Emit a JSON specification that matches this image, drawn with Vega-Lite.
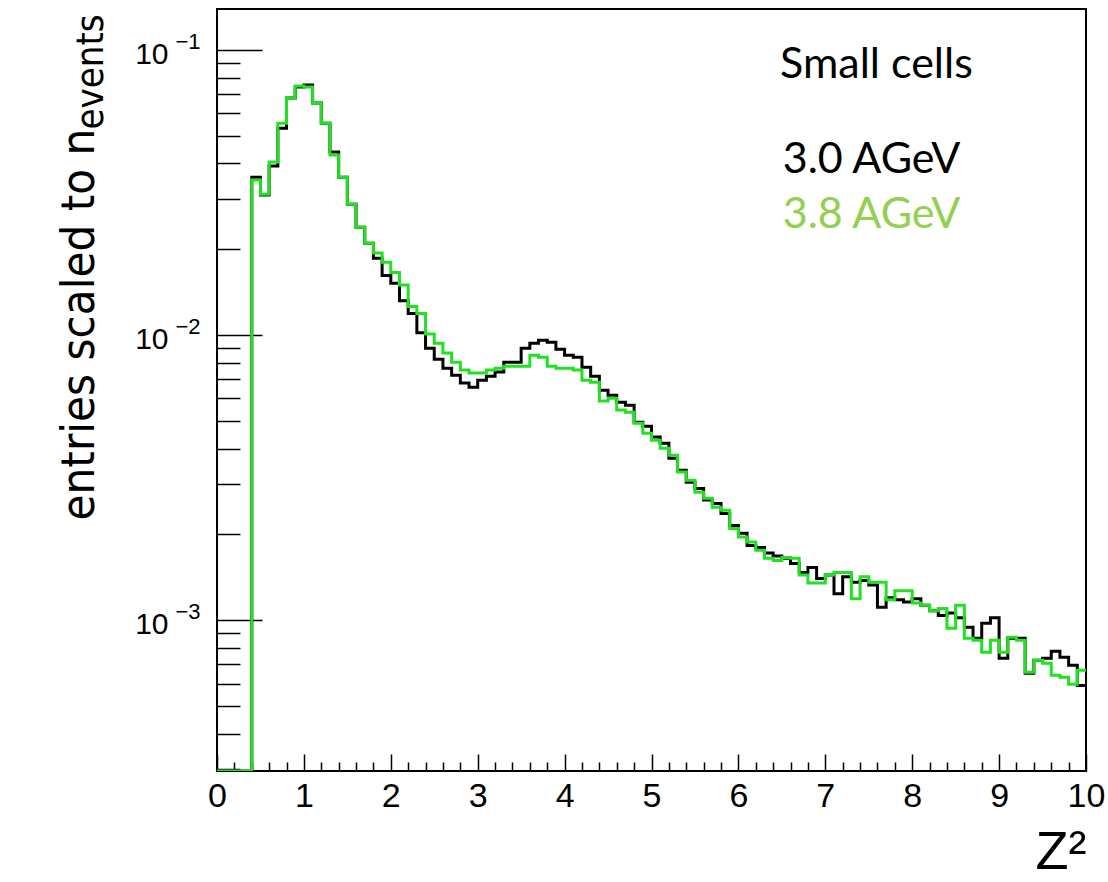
{
  "$schema": "https://vega.github.io/schema/vega-lite/v6.json",
  "width": 869,
  "height": 762,
  "autosize": {"type": "none"},
  "padding": {"left": 217, "top": 9, "right": 22, "bottom": 111},
  "background": "white",
  "config": {
    "view": {"stroke": "black", "strokeWidth": 2},
    "axis": {"grid": false, "domain": false, "tickColor": "black", "tickWidth": 1.5, "labelColor": "black", "titleColor": "black", "labelFont": "'Liberation Sans', Arial, sans-serif", "titleFont": "'Liberation Sans', Arial, sans-serif", "titleFontWeight": "normal"}
  },
  "datasets": {
    "e30": [
      {"x": 0, "v": 0.000296},
      {"x": 0.4, "v": 0.0358}, {"x": 0.5, "v": 0.0310}, {"x": 0.6, "v": 0.0392}, {"x": 0.7, "v": 0.0532}, {"x": 0.8, "v": 0.0679}, {"x": 0.9, "v": 0.0742},
      {"x": 1.0, "v": 0.0754}, {"x": 1.1, "v": 0.0652}, {"x": 1.2, "v": 0.0554}, {"x": 1.3, "v": 0.0439}, {"x": 1.4, "v": 0.0358}, {"x": 1.5, "v": 0.0288}, {"x": 1.6, "v": 0.0239}, {"x": 1.7, "v": 0.0210}, {"x": 1.8, "v": 0.0186}, {"x": 1.9, "v": 0.0162},
      {"x": 2.0, "v": 0.0152}, {"x": 2.1, "v": 0.0132}, {"x": 2.2, "v": 0.0119}, {"x": 2.3, "v": 0.0102}, {"x": 2.4, "v": 0.00900}, {"x": 2.5, "v": 0.00823}, {"x": 2.6, "v": 0.00766}, {"x": 2.7, "v": 0.00724}, {"x": 2.8, "v": 0.00679}, {"x": 2.9, "v": 0.00657},
      {"x": 3.0, "v": 0.00695}, {"x": 3.1, "v": 0.00718}, {"x": 3.2, "v": 0.00742}, {"x": 3.3, "v": 0.00804}, {"x": 3.4, "v": 0.00804}, {"x": 3.5, "v": 0.00900}, {"x": 3.6, "v": 0.00937}, {"x": 3.7, "v": 0.00960}, {"x": 3.8, "v": 0.00945}, {"x": 3.9, "v": 0.00893},
      {"x": 4.0, "v": 0.00851}, {"x": 4.1, "v": 0.00837}, {"x": 4.2, "v": 0.00772}, {"x": 4.3, "v": 0.00718}, {"x": 4.4, "v": 0.00641}, {"x": 4.5, "v": 0.00616}, {"x": 4.6, "v": 0.00582}, {"x": 4.7, "v": 0.00568}, {"x": 4.8, "v": 0.00495}, {"x": 4.9, "v": 0.00479},
      {"x": 5.0, "v": 0.00439}, {"x": 5.1, "v": 0.00418}, {"x": 5.2, "v": 0.00370}, {"x": 5.3, "v": 0.00336}, {"x": 5.4, "v": 0.00305}, {"x": 5.5, "v": 0.00290}, {"x": 5.6, "v": 0.00264}, {"x": 5.7, "v": 0.00257}, {"x": 5.8, "v": 0.00237}, {"x": 5.9, "v": 0.00215},
      {"x": 6.0, "v": 0.00202}, {"x": 6.1, "v": 0.00183}, {"x": 6.2, "v": 0.00180}, {"x": 6.3, "v": 0.00172}, {"x": 6.4, "v": 0.00168}, {"x": 6.5, "v": 0.00165}, {"x": 6.6, "v": 0.00158}, {"x": 6.7, "v": 0.00147}, {"x": 6.8, "v": 0.00153}, {"x": 6.9, "v": 0.00140},
      {"x": 7.0, "v": 0.00144}, {"x": 7.1, "v": 0.00124}, {"x": 7.2, "v": 0.00142}, {"x": 7.3, "v": 0.00136}, {"x": 7.4, "v": 0.00138}, {"x": 7.5, "v": 0.00133}, {"x": 7.6, "v": 0.00111}, {"x": 7.7, "v": 0.00120}, {"x": 7.8, "v": 0.00118}, {"x": 7.9, "v": 0.00116},
      {"x": 8.0, "v": 0.00119}, {"x": 8.1, "v": 0.00113}, {"x": 8.2, "v": 0.00108}, {"x": 8.3, "v": 0.00104}, {"x": 8.4, "v": 0.00106}, {"x": 8.5, "v": 0.00102}, {"x": 8.6, "v": 0.000945}, {"x": 8.7, "v": 0.000865}, {"x": 8.8, "v": 0.000976}, {"x": 8.9, "v": 0.00102},
      {"x": 9.0, "v": 0.000736}, {"x": 9.1, "v": 0.000865}, {"x": 9.2, "v": 0.000865}, {"x": 9.3, "v": 0.000652}, {"x": 9.4, "v": 0.000724}, {"x": 9.5, "v": 0.000736}, {"x": 9.6, "v": 0.000778}, {"x": 9.7, "v": 0.000742}, {"x": 9.8, "v": 0.000695}, {"x": 9.9, "v": 0.000591},
      {"x": 10.0, "v": 0.000591}
    ],
    "e38": [
      {"x": 0, "v": 0.000296},
      {"x": 0.4, "v": 0.0350}, {"x": 0.5, "v": 0.0312}, {"x": 0.6, "v": 0.0405}, {"x": 0.7, "v": 0.0554}, {"x": 0.8, "v": 0.0679}, {"x": 0.9, "v": 0.0748},
      {"x": 1.0, "v": 0.0742}, {"x": 1.1, "v": 0.0652}, {"x": 1.2, "v": 0.0554}, {"x": 1.3, "v": 0.0428}, {"x": 1.4, "v": 0.0358}, {"x": 1.5, "v": 0.0288}, {"x": 1.6, "v": 0.0239}, {"x": 1.7, "v": 0.0210}, {"x": 1.8, "v": 0.0194}, {"x": 1.9, "v": 0.0180},
      {"x": 2.0, "v": 0.0166}, {"x": 2.1, "v": 0.0150}, {"x": 2.2, "v": 0.0126}, {"x": 2.3, "v": 0.0119}, {"x": 2.4, "v": 0.0101}, {"x": 2.5, "v": 0.00937}, {"x": 2.6, "v": 0.00865}, {"x": 2.7, "v": 0.00804}, {"x": 2.8, "v": 0.00754}, {"x": 2.9, "v": 0.00736},
      {"x": 3.0, "v": 0.00736}, {"x": 3.1, "v": 0.00754}, {"x": 3.2, "v": 0.00766}, {"x": 3.3, "v": 0.00778}, {"x": 3.4, "v": 0.00778}, {"x": 3.5, "v": 0.00778}, {"x": 3.6, "v": 0.00851}, {"x": 3.7, "v": 0.00837}, {"x": 3.8, "v": 0.00778}, {"x": 3.9, "v": 0.00766},
      {"x": 4.0, "v": 0.00766}, {"x": 4.1, "v": 0.00754}, {"x": 4.2, "v": 0.00695}, {"x": 4.3, "v": 0.00684}, {"x": 4.4, "v": 0.00587}, {"x": 4.5, "v": 0.00601}, {"x": 4.6, "v": 0.00546}, {"x": 4.7, "v": 0.00537}, {"x": 4.8, "v": 0.00491}, {"x": 4.9, "v": 0.00453},
      {"x": 5.0, "v": 0.00428}, {"x": 5.1, "v": 0.00401}, {"x": 5.2, "v": 0.00379}, {"x": 5.3, "v": 0.00331}, {"x": 5.4, "v": 0.00310}, {"x": 5.5, "v": 0.00281}, {"x": 5.6, "v": 0.00268}, {"x": 5.7, "v": 0.00249}, {"x": 5.8, "v": 0.00243}, {"x": 5.9, "v": 0.00210},
      {"x": 6.0, "v": 0.00196}, {"x": 6.1, "v": 0.00188}, {"x": 6.2, "v": 0.00176}, {"x": 6.3, "v": 0.00165}, {"x": 6.4, "v": 0.00162}, {"x": 6.5, "v": 0.00166}, {"x": 6.6, "v": 0.00165}, {"x": 6.7, "v": 0.00144}, {"x": 6.8, "v": 0.00135}, {"x": 6.9, "v": 0.00135},
      {"x": 7.0, "v": 0.00144}, {"x": 7.1, "v": 0.00147}, {"x": 7.2, "v": 0.00147}, {"x": 7.3, "v": 0.00119}, {"x": 7.4, "v": 0.00142}, {"x": 7.5, "v": 0.00136}, {"x": 7.6, "v": 0.00136}, {"x": 7.7, "v": 0.00118}, {"x": 7.8, "v": 0.00127}, {"x": 7.9, "v": 0.00127},
      {"x": 8.0, "v": 0.00115}, {"x": 8.1, "v": 0.00113}, {"x": 8.2, "v": 0.00108}, {"x": 8.3, "v": 0.00110}, {"x": 8.4, "v": 0.000937}, {"x": 8.5, "v": 0.00113}, {"x": 8.6, "v": 0.000865}, {"x": 8.7, "v": 0.000851}, {"x": 8.8, "v": 0.000772}, {"x": 8.9, "v": 0.000851},
      {"x": 9.0, "v": 0.000772}, {"x": 9.1, "v": 0.000872}, {"x": 9.2, "v": 0.000851}, {"x": 9.3, "v": 0.000657}, {"x": 9.4, "v": 0.000724}, {"x": 9.5, "v": 0.000706}, {"x": 9.6, "v": 0.000641}, {"x": 9.7, "v": 0.000631}, {"x": 9.8, "v": 0.000596}, {"x": 9.9, "v": 0.000668},
      {"x": 10.0, "v": 0.000668}
    ],
    "labels": [
      {"t": "Small cells", "x": 6.48, "v": 0.0886, "c": "#000000"},
      {"t": "3.0 AGeV", "x": 6.51, "v": 0.0411, "c": "#000000"},
      {"t": "3.8 AGeV", "x": 6.51, "v": 0.0264, "c": "#92D050"}
    ]
  },
  "resolve": {"axis": {"x": "independent", "y": "independent"}},
  "layer": [
    {
      "data": {"name": "e30"},
      "mark": {"type": "line", "interpolate": "step-after", "color": "#000000", "strokeWidth": 3, "clip": true},
      "encoding": {
        "x": {"field": "x", "type": "quantitative", "scale": {"domain": [0, 10], "nice": false, "zero": false},
          "axis": {"orient": "bottom", "values": [0,1,2,3,4,5,6,7,8,9,10], "tickSize": -17, "labelFontSize": 34, "labelPadding": 25, "labelFlush": false, "labelOverlap": false,
            "title": "Z²", "titleFontSize": 54, "titleAlign": "right", "titleAnchor": "end", "titleX": 869, "titleY": 97, "titleBaseline": "alphabetic"}},
        "y": {"field": "v", "type": "quantitative", "scale": {"type": "log", "domain": [0.000296, 0.1393], "nice": false},
          "axis": {"orient": "left", "values": [0.1, 0.01, 0.001], "tickSize": -45, "labelFontSize": 30, "labelPadding": 94, "labelOffset": 4,
            "labelExpr": "'10'",
            "title": "entries scaled to n", "titleFont": "'DejaVu Sans Condensed', 'Liberation Sans', sans-serif", "titleFontSize": 47, "titleAngle": 270, "titleAlign": "left", "titleBaseline": "alphabetic", "titleX": -124, "titleY": 511}}
      }
    },
    {
      "data": {"name": "e38"},
      "mark": {"type": "line", "interpolate": "step-after", "color": "#22e022", "strokeWidth": 3, "clip": true},
      "encoding": {
        "x": {"field": "x", "type": "quantitative",
          "axis": {"orient": "bottom", "values": [0.2,0.4,0.6,0.8,1.2,1.4,1.6,1.8,2.2,2.4,2.6,2.8,3.2,3.4,3.6,3.8,4.2,4.4,4.6,4.8,5.2,5.4,5.6,5.8,6.2,6.4,6.6,6.8,7.2,7.4,7.6,7.8,8.2,8.4,8.6,8.8,9.2,9.4,9.6,9.8], "tickSize": -9, "labels": false, "title": null}},
        "y": {"field": "v", "type": "quantitative",
          "axis": {"orient": "left", "values": [0.0003,0.0004,0.0005,0.0006,0.0007,0.0008,0.0009,0.002,0.003,0.004,0.005,0.006,0.007,0.008,0.009,0.02,0.03,0.04,0.05,0.06,0.07,0.08,0.09], "tickSize": -23, "labels": false,
            "title": "events", "titleFont": "'DejaVu Sans Condensed', 'Liberation Sans', sans-serif", "titleFontSize": 38, "titleAngle": 270, "titleAlign": "left", "titleBaseline": "alphabetic", "titleX": -115, "titleY": 120}}
      }
    },
    {
      "data": {"name": "labels"},
      "mark": {"type": "text", "align": "left", "baseline": "middle", "font": "Lato", "fontSize": 43},
      "encoding": {
        "x": {"field": "x", "type": "quantitative", "axis": null},
        "y": {"field": "v", "type": "quantitative",
          "axis": {"orient": "left", "values": [0.1, 0.01, 0.001], "ticks": false, "tickSize": 0, "labelFontSize": 22, "labelPadding": 17, "labelOffset": -9,
            "labelExpr": "datum.value >= 0.05 ? '−1' : datum.value >= 0.005 ? '−2' : '−3'", "title": null}},
        "text": {"field": "t"},
        "color": {"field": "c", "type": "nominal", "scale": null}
      }
    }
  ]
}
